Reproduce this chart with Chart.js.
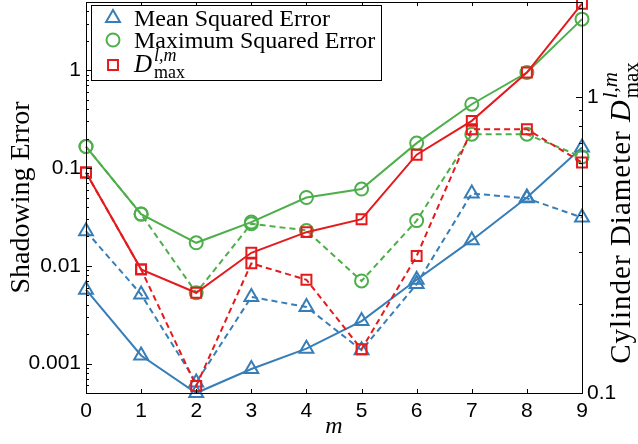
<!DOCTYPE html>
<html lang="en">
  <head>
    <meta charset="UTF-8" />
    <title>Shadowing Error</title>
    <script src="https://cdn.jsdelivr.net/npm/chart.js"></script>
    <style>
      body { margin: 0; background: #fff; }
      canvas { display: block; }
    </style>
  </head>
  <body>
    <canvas id="myChart" width="638" height="444"></canvas>
    <script>
// valores
const mValues = [0, 1, 2, 3, 4, 5, 6, 7, 8, 9];
const mseSolid = [0.0057, 0.00121, 0.0005, 0.00088, 0.00142, 0.00272, 0.0072, 0.0183, 0.050, 0.162];
const mseDashed = [0.0226, 0.0051, 0.00064, 0.0048, 0.0038, 0.00137, 0.0065, 0.055, 0.049, 0.0312];
const maxSolid = [0.166, 0.0338, 0.0172, 0.028, 0.050, 0.061, 0.18, 0.45, 0.95, 3.34];
const maxDashed = [0.166, 0.0338, 0.0053, 0.027, 0.023, 0.0070, 0.029, 0.222, 0.222, 0.13];
const dSolid = [0.090, 0.0092, 0.0053, 0.0136, 0.0221, 0.030, 0.137, 0.304, 0.95, 4.8];
const dDashed = [0.090, 0.0092, 0.00059, 0.0106, 0.0072, 0.0014, 0.0126, 0.25, 0.25, 0.114];
const leftTicks = [0.001, 0.01, 0.1, 1];
const rightTicks = [0.1, 1];

const blue = "#377eb8";
const green = "#4daf4a";
const red = "#e41a1c";
const serif = '"Liberation Serif", "DejaVu Serif", serif';
const sans = '"Liberation Sans", Arial, sans-serif';

function serie(data, color, style, radius, dashed) {
  return {
    data: data,
    borderColor: color,
    borderWidth: 2,
    borderDash: dashed ? [6, 4] : [],
    pointStyle: style,
    pointRadius: radius,
    pointBorderWidth: 2,
    pointBorderColor: color,
    pointBackgroundColor: "rgba(0,0,0,0)",
    tension: 0,
    clip: false
  };
}

// D^{l,m}_{max}
function drawD(ctx, x, y, size) {
  ctx.textAlign = "left";
  ctx.textBaseline = "alphabetic";
  ctx.font = "italic " + size + "px " + serif;
  ctx.fillText("D", x, y);
  const w = ctx.measureText("D").width + 2;
  const small = Math.round(size * 0.7);
  ctx.font = "italic " + small + "px " + serif;
  ctx.fillText("l,m", x + w, y - size * 0.45);
  const w1 = ctx.measureText("l,m").width;
  ctx.font = small + "px " + serif;
  ctx.fillText("max", x + w, y + size * 0.25);
  const w2 = ctx.measureText("max").width;
  return w + Math.max(w1, w2);
}

function widthD(ctx, size) {
  ctx.font = "italic " + size + "px " + serif;
  const w = ctx.measureText("D").width + 2;
  ctx.font = Math.round(size * 0.7) + "px " + serif;
  return w + ctx.measureText("max").width;
}

const decor = {
  id: "decor",
  afterDraw(chart) {
    const ctx = chart.ctx;
    const a = chart.chartArea;
    const sx = chart.scales.x, sy = chart.scales.y, sy2 = chart.scales.y2;
    ctx.save();
    ctx.strokeStyle = "#000";
    ctx.lineWidth = 1;
    ctx.beginPath();
    // ticks em x (baixo e cima)
    mValues.forEach((v, i) => {
      const px = Math.round(sx.getPixelForValue(i)) + 0.5;
      ctx.moveTo(px, a.bottom); ctx.lineTo(px, a.bottom - 4);
      ctx.moveTo(px, a.top); ctx.lineTo(px, a.top + 4);
    });
    // ticks log esquerda
    for (let d = -4; d <= 0; d++) {
      for (let k = 1; k <= 9; k++) {
        const v = k * Math.pow(10, d);
        if (v < sy.min || v > sy.max) continue;
        const py = Math.round(sy.getPixelForValue(v)) + 0.5;
        ctx.moveTo(a.left, py); ctx.lineTo(a.left + (k === 1 ? 6 : 3), py);
      }
    }
    // ticks log direita
    for (let d = -1; d <= 0; d++) {
      for (let k = 1; k <= 9; k++) {
        const v = k * Math.pow(10, d);
        if (v < sy2.min || v > sy2.max) continue;
        const py = Math.round(sy2.getPixelForValue(v)) + 0.5;
        ctx.moveTo(a.right, py); ctx.lineTo(a.right - (k === 1 ? 6 : 3), py);
      }
    }
    ctx.stroke();
    ctx.strokeRect(Math.round(a.left) + 0.5, Math.round(a.top) + 0.5,
      Math.round(a.right - a.left), Math.round(a.bottom - a.top));

    // legenda
    const lx = 91.5, ly = 5.5, lw = 290, lh = 75;
    ctx.fillStyle = "#fff";
    ctx.fillRect(lx, ly, lw, lh);
    ctx.strokeRect(lx, ly, lw, lh);
    const mk = [
      { style: "triangle", color: blue, r: 8, y: 18 },
      { style: "circle", color: green, r: 6.5, y: 40 },
      { style: "rect", color: red, r: 7, y: 65 }
    ];
    mk.forEach(p => {
      ctx.strokeStyle = p.color;
      ctx.lineWidth = 2;
      Chart.helpers.drawPoint(ctx, { pointStyle: p.style, radius: p.r, borderWidth: 2 }, 113, p.y);
    });
    ctx.fillStyle = "#000";
    ctx.textAlign = "left";
    ctx.textBaseline = "alphabetic";
    ctx.font = "24px " + serif;
    ctx.fillText("Mean Squared Error", 134, 26);
    ctx.fillText("Maximum Squared Error", 134, 48);
    drawD(ctx, 134, 72, 25);

    // títulos dos eixos
    ctx.font = "28px " + serif;
    ctx.textAlign = "center";
    ctx.save();
    ctx.translate(29, (a.top + a.bottom) / 2);
    ctx.rotate(-Math.PI / 2);
    ctx.fillText("Shadowing Error", 0, 0);
    ctx.restore();

    ctx.save();
    const label = "Cylinder Diameter ";
    ctx.font = "29px " + serif;
    ctx.letterSpacing = "1px";
    const w0 = ctx.measureText(label).width;
    ctx.letterSpacing = "0px";
    const tw = w0 + widthD(ctx, 30);
    ctx.translate(630, 213);
    ctx.rotate(-Math.PI / 2);
    ctx.textAlign = "left";
    ctx.font = "29px " + serif;
    ctx.letterSpacing = "1px";
    ctx.fillText(label, -tw / 2, 0);
    ctx.letterSpacing = "0px";
    drawD(ctx, -tw / 2 + w0, 0, 30);
    ctx.restore();

    ctx.font = "italic 24px " + serif;
    ctx.textAlign = "center";
    ctx.fillText("m", (a.left + a.right) / 2, 433);
    ctx.restore();
  }
};

function noPad(scale) {
  scale.paddingTop = 0;
  scale.paddingBottom = 0;
  scale.paddingLeft = 0;
  scale.paddingRight = 0;
}

function decadeLabel(list) {
  return function (value) {
    const v = Number(Number(value).toPrecision(6));
    return list.includes(v) ? String(v) : "";
  };
}

const ctx = document.getElementById("myChart");
new Chart(ctx, {
  type: "line",
  data: {
    labels: mValues,
    datasets: [
      serie(dSolid, red, "rect", 7, false),
      serie(dDashed, red, "rect", 7, true),
      serie(maxSolid, green, "circle", 6.5, false),
      serie(maxDashed, green, "circle", 6.5, true),
      serie(mseSolid, blue, "triangle", 8, false),
      serie(mseDashed, blue, "triangle", 8, true)
    ]
  },
  options: {
    responsive: false,
    animation: false,
    layout: { autoPadding: false, padding: { top: 2, left: 0, right: 0, bottom: 0 } },
    plugins: {
      legend: { display: false },
      tooltip: { enabled: false }
    },
    scales: {
      x: {
        type: "category",
        grid: { display: false, drawTicks: false },
        border: { display: false },
        ticks: { color: "#000", font: { family: sans, size: 21 }, padding: 6, maxRotation: 0, autoSkip: false },
        afterFit: s => { s.height = 51; noPad(s); }
      },
      y: {
        type: "logarithmic",
        position: "left",
        min: 0.0005,
        max: 5,
        grid: { display: false, drawTicks: false },
        border: { display: false },
        ticks: { color: "#000", font: { family: sans, size: 21 }, padding: 5, autoSkip: false, callback: decadeLabel(leftTicks) },
        afterFit: s => { s.width = 86; noPad(s); }
      },
      y2: {
        type: "logarithmic",
        position: "right",
        min: 0.1,
        max: 2.09,
        grid: { display: false, drawTicks: false },
        border: { display: false },
        ticks: { color: "#000", font: { family: sans, size: 21 }, padding: 5, autoSkip: false, callback: decadeLabel(rightTicks) },
        afterFit: s => { s.width = 56; noPad(s); }
      }
    }
  },
  plugins: [decor]
});
    </script>
  </body>
</html>
